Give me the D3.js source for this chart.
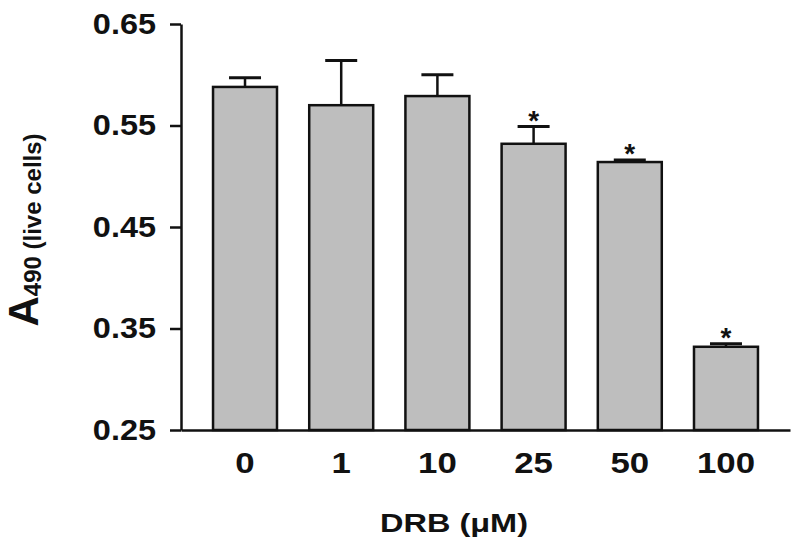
<!DOCTYPE html>
<html>
<head>
<meta charset="utf-8">
<script src="https://cdn.jsdelivr.net/npm/d3@7"></script>
<style>
  body { margin: 0; background: #fff; }
  text { font-family: "Liberation Sans", Arial, sans-serif; }
</style>
</head>
<body>
<script>
// ----------------------------------- DATA --------------------------------------------
var doses = ['0', '1', '10', '25', '50', '100']
var means = [0.588, 0.570, 0.579, 0.532, 0.514, 0.332]
var errors = [0.009, 0.044, 0.021, 0.017, 0.002, 0.003]
var significant = [false, false, false, true, true, true]
var yTicks = [0.25, 0.35, 0.45, 0.55, 0.65]

// ----------------------------------- SVG --------------------------------------------
var width = 800
var height = 547

var svg = d3.select('body')
			.append('svg')
			.attr('width', width)
			.attr('height', height)

svg.append('rect')
	.attr('width', '100%')
	.attr('height', '100%')
	.attr('fill', 'white')

// ----------------------------------- SCALES --------------------------------------------
var x = d3.scaleBand()
		.domain(doses)
		.range([181, 790])
		.paddingInner(0.335)
		.paddingOuter(0.333)

var y = d3.scaleLinear()
		.domain([0.25, 0.65])
		.range([430, 24])

// ----------------------------------- BARS --------------------------------------------
var rows = doses.map(function(d, i){
	return {dose: d, mean: means[i], err: errors[i], star: significant[i]}
})

var mid = function(d){ return x(d.dose) + x.bandwidth() / 2 }

var bars = svg.append('g')

// error bars (upper only), drawn first so the bar edge covers the stem
bars.selectAll('line.stem')
	.data(rows)
	.enter()
	.append('line')
	.attr('class', 'stem')
	.attr('x1', mid)
	.attr('x2', mid)
	.attr('y1', function(d){ return y(d.mean) })
	.attr('y2', function(d){ return y(d.mean + d.err) })
	.attr('stroke', '#111')
	.attr('stroke-width', 2.5)

bars.selectAll('line.cap')
	.data(rows)
	.enter()
	.append('line')
	.attr('class', 'cap')
	.attr('x1', function(d){ return mid(d) - 16 })
	.attr('x2', function(d){ return mid(d) + 16 })
	.attr('y1', function(d){ return y(d.mean + d.err) })
	.attr('y2', function(d){ return y(d.mean + d.err) })
	.attr('stroke', '#111')
	.attr('stroke-width', 3)

bars.selectAll('rect')
	.data(rows)
	.enter()
	.append('rect')
	.attr('x', function(d){ return x(d.dose) })
	.attr('y', function(d){ return y(d.mean) })
	.attr('width', x.bandwidth())
	.attr('height', function(d){ return y(0.25) - y(d.mean) })
	.attr('fill', '#bebebe')
	.attr('stroke', '#111')
	.attr('stroke-width', 2.5)

bars.selectAll('text.star')
	.data(rows.filter(function(d){ return d.star }))
	.enter()
	.append('text')
	.attr('class', 'star')
	.attr('x', mid)
	.attr('y', function(d){ return y(d.mean + d.err) + 3 })
	.attr('text-anchor', 'middle')
	.attr('font-size', 28)
	.attr('font-weight', 'bold')
	.attr('fill', '#111')
	.text('*')

// ----------------------------------- AXES --------------------------------------------
var yAxis = svg.append('g')
		.attr('transform', 'translate(181,0)')
		.call(d3.axisLeft(y).tickValues(yTicks).tickSize(11).tickSizeOuter(0).tickPadding(14)
			.tickFormat(d3.format('.2f')))

yAxis.select('.domain').attr('stroke', '#111').attr('stroke-width', 2.5)
yAxis.selectAll('.tick line').attr('stroke', '#111').attr('stroke-width', 2.5)
yAxis.selectAll('.tick text')
	.attr('font-size', 29)
	.attr('font-weight', 'bold')
	.attr('fill', '#111')
	.attr('font-family', '"Liberation Sans", Arial, sans-serif')
	.attr('x', -25 / 1.12)
	.attr('transform', 'scale(1.12,1)')

var xAxis = svg.append('g')
		.attr('transform', 'translate(0,430)')
		.call(d3.axisBottom(x).tickSize(0).tickSizeOuter(0).tickPadding(22))

xAxis.select('.domain').attr('stroke', '#111').attr('stroke-width', 2.5)
xAxis.selectAll('.tick text')
	.attr('font-size', 29)
	.attr('font-weight', 'bold')
	.attr('fill', '#111')
	.attr('font-family', '"Liberation Sans", Arial, sans-serif')
	.attr('transform', 'scale(1.2,1)')

// ----------------------------------- TITLES --------------------------------------------
svg.append('text')
	.attr('transform', 'translate(454,532) scale(1.25,1)')
	.attr('text-anchor', 'middle')
	.attr('font-size', 26)
	.attr('font-weight', 'bold')
	.attr('fill', '#111')
	.text('DRB (\u03bcM)')

var yLabel = svg.append('text')
	.attr('transform', 'translate(38,230) rotate(-90)')
	.attr('text-anchor', 'middle')
	.attr('fill', '#111')
	.attr('font-weight', 'bold')

yLabel.append('tspan').attr('font-size', 42).text('A')
yLabel.append('tspan').attr('font-size', 24).attr('dy', 3).text('490 (live cells)')
</script>
</body>
</html>
